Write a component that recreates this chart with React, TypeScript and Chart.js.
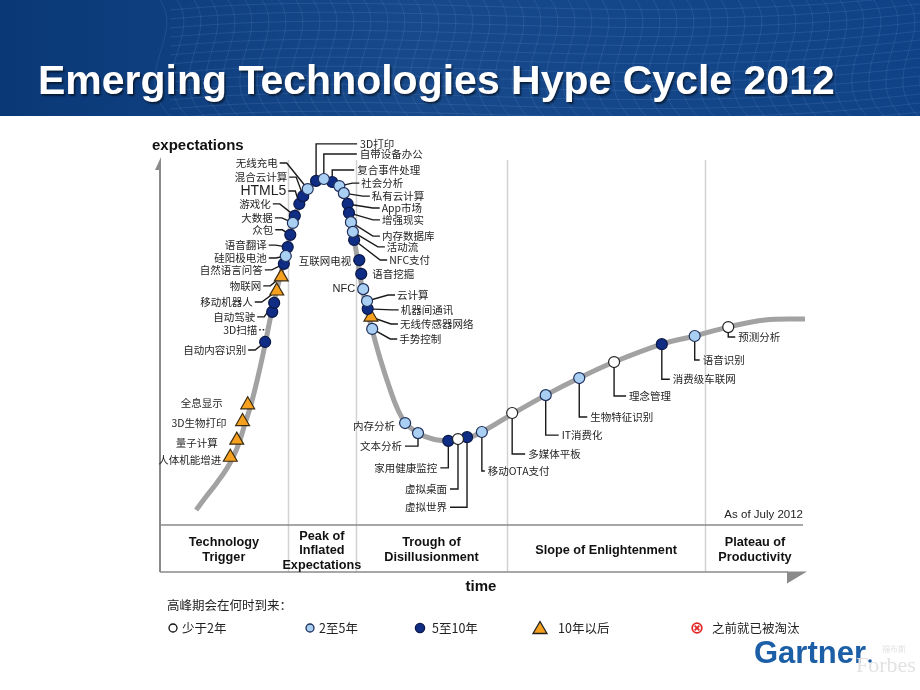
import React, { useEffect, useRef } from "react";
import { Chart, registerables } from "chart.js";

Chart.register(...registerables);

// ---------- data ----------
const curveTime = [5.6, 7.1, 8.8, 10.4, 11.5, 12.4, 13.2, 14.0, 14.7, 15.5, 16.3, 17.2, 18.0, 18.8, 19.5, 20.2, 20.9, 21.7, 22.6, 23.7, 25.1, 26.5, 27.8, 28.5, 29.1, 29.6, 30.1, 30.7, 31.3, 32.1, 32.9, 34.1, 35.7, 36.9, 38.1, 40.0, 42.3, 44.7, 46.8, 49.9, 54.6, 59.8, 65.0, 70.4, 77.8, 82.9, 88.1, 93.8, 100];
const curveExpect = [3.2, 6.7, 10.5, 14.5, 18.0, 22.0, 26.6, 30.9, 35.5, 41.4, 47.8, 55.6, 61.6, 67.2, 72.3, 76.9, 82.0, 85.8, 88.7, 90.9, 92.2, 91.9, 90.3, 88.2, 84.9, 80.6, 75.8, 69.9, 63.2, 57.0, 51.6, 44.1, 35.5, 30.1, 26.6, 23.9, 22.3, 21.8, 22.0, 24.2, 29.0, 34.1, 38.7, 43.0, 47.8, 50.0, 52.4, 54.3, 54.6];

const techNames = ["人体机能增进", "量子计算", "3D生物打印", "全息显示", "自动内容识别", "3D扫描", "自动驾驶", "移动机器人", "物联网", "自然语言问答", "硅阳极电池", "语音翻译", "众包", "大数据", "游戏化", "HTML5", "混合云计算", "无线充电", "3D打印", "自带设备办公", "复合事件处理", "社会分析", "私有云计算", "App市场", "增强现实", "内存数据库", "活动流", "NFC支付", "互联网电视", "语音挖掘", "NFC", "云计算", "机器间通讯", "无线传感器网络", "手势控制", "内存分析", "文本分析", "家用健康监控", "虚拟桌面", "虚拟世界", "移动OTA支付", "多媒体平板", "IT消费化", "生物特征识别", "理念管理", "消费级车联网", "语音识别", "预测分析"];
const techTime = [10.9, 11.9, 12.8, 13.6, 16.3, 17.4, 17.7, 18.1, 18.8, 19.2, 19.5, 19.8, 20.2, 20.6, 20.9, 21.6, 22.2, 22.9, 24.2, 25.4, 26.7, 27.8, 28.5, 29.1, 29.3, 29.6, 29.9, 30.1, 30.9, 31.2, 31.5, 32.1, 32.2, 32.7, 32.9, 38.0, 40.0, 44.7, 46.2, 47.6, 49.9, 54.6, 59.8, 65.0, 70.4, 77.8, 82.9, 88.1];
const techExpect = [17.4, 22.0, 27.0, 31.5, 48.4, 56.5, 58.9, 62.1, 65.9, 69.4, 71.5, 73.9, 77.2, 80.4, 82.3, 85.5, 87.6, 89.5, 91.7, 92.2, 91.4, 90.3, 88.4, 85.5, 83.1, 80.6, 78.0, 75.8, 70.4, 66.7, 62.6, 59.4, 57.3, 55.1, 51.9, 26.6, 23.9, 21.8, 22.3, 22.8, 24.2, 29.3, 34.1, 38.7, 43.0, 47.8, 50.0, 52.4];
const techPeak = [">10", ">10", ">10", ">10", "5-10", "5-10", "5-10", ">10", ">10", "5-10", "2-5", "5-10", "5-10", "2-5", "5-10", "5-10", "5-10", "2-5", "5-10", "2-5", "5-10", "2-5", "2-5", "5-10", "5-10", "2-5", "2-5", "5-10", "5-10", "5-10", "2-5", "2-5", "5-10", ">10", "2-5", "2-5", "2-5", "5-10", "<2", "5-10", "2-5", "<2", "2-5", "2-5", "<2", "5-10", "2-5", "<2"];

const peakGroups = ["<2", "2-5", "5-10", ">10"];
const legendTitle = "高峰期会在何时到来：";
const legendLabels = ["少于2年", "2至5年", "5至10年", "10年以后", "之前就已被淘汰"];
const phaseBounds = [0, 19.8, 30.4, 53.8, 84.5, 100];
const phaseLabels = [["Technology", "Trigger"], ["Peak of", "Inflated", "Expectations"], ["Trough of", "Disillusionment"], ["Slope of Enlightenment"], ["Plateau of", "Productivity"]];
const titleText = "Emerging Technologies Hype Cycle 2012";
const yAxisTitle = "expectations";
const xAxisTitle = "time";
const asOfText = "As of July 2012";

// ---------- layout (label offsets from marker, px) ----------
// [dx, dy, align, leader]  leader: n none, s side, o dotted side, u elbow up, d elbow down, t straight
const labelLayout: [number, number, string, string][] = [
  [-9, 3, "R", "n"], [-19, 3, "R", "n"], [-16, 1, "R", "n"], [-25, -2, "R", "n"],
  [-19, 8, "R", "s"], [-15, 18, "R", "o"], [-19, 14, "R", "s"], [-24, 11, "R", "s"],
  [-20, 9, "R", "s"], [-21, 6, "R", "s"], [-19, 2, "R", "s"], [-21, -2, "R", "s"],
  [-17, -5, "R", "s"], [-20, -5, "R", "s"], [-24, -12, "R", "s"], [-13, -13, "R", "s"],
  [-16, -19, "R", "s"], [-30, -26, "R", "s"],
  [44, -37, "L", "u"], [36, -25, "L", "u"], [25, -12, "L", "u"], [22, -3, "L", "s"],
  [28, 3, "L", "s"], [34, 4, "L", "s"], [33, 7, "L", "s"], [31, 14, "L", "s"],
  [34, 15, "L", "s"], [35, 20, "L", "s"], [-8, 1, "R", "t"], [11, 0, "L", "n"],
  [-8, 0, "R", "n"], [30, -6, "L", "s"], [33, 1, "L", "s"], [29, 7, "L", "s"],
  [27, 10, "L", "s"],
  [-10, 3, "R", "n"], [-16, 13, "R", "d"], [-11, 27, "R", "d"], [-11, 50, "R", "d"],
  [-20, 70, "R", "d"], [6, 39, "L", "d"], [16, 41, "L", "d"], [16, 40, "L", "d"],
  [11, 39, "L", "d"], [15, 34, "L", "d"], [11, 35, "L", "d"], [8, 24, "L", "d"],
  [10, 10, "L", "d"],
];

const CJK = '"Noto Sans CJK SC", "Noto Sans", sans-serif';
const LAT = '"Liberation Sans", Arial, sans-serif';

const groupStyle: Record<string, any> = {
  "<2": { bg: "#ffffff", border: "#222222", r: 5.5, style: "circle" },
  "2-5": { bg: "#a9d0f2", border: "#1f2f5a", r: 5.5, style: "circle" },
  "5-10": { bg: "#102d86", border: "#0a1848", r: 5.5, style: "circle" },
  ">10": { bg: "#f5a01e", border: "#3a2a10", r: 8, style: "triangle" },
};

function drawBanner(ctx: CanvasRenderingContext2D) {
  const g = ctx.createLinearGradient(0, 0, 920, 0);
  g.addColorStop(0, "#0a3877");
  g.addColorStop(0.45, "#17498b");
  g.addColorStop(1, "#0f4286");
  ctx.fillStyle = g;
  ctx.fillRect(0, 0, 920, 116);
  ctx.save();
  ctx.beginPath();
  ctx.rect(0, 0, 920, 116);
  ctx.clip();
  ctx.strokeStyle = "rgba(165,200,245,0.12)";
  ctx.lineWidth = 1;
  for (let i = 0; i < 46; i++) {
    const x0 = 160 + i * 17;
    ctx.beginPath();
    ctx.moveTo(x0, 0);
    ctx.bezierCurveTo(x0 + 25, 35, x0 - 30, 75, x0 + 10, 116);
    ctx.stroke();
  }
  for (let j = 0; j < 14; j++) {
    const y0 = j * 9;
    ctx.beginPath();
    ctx.moveTo(170, y0 + 10);
    ctx.bezierCurveTo(400, y0 - 12, 620, y0 + 30, 920, y0 - 5);
    ctx.stroke();
  }
  ctx.restore();
  ctx.save();
  ctx.fillStyle = "#ffffff";
  ctx.font = `bold 41px ${LAT}`;
  ctx.textBaseline = "alphabetic";
  ctx.textAlign = "left";
  ctx.shadowColor = "rgba(0,0,0,0.55)";
  ctx.shadowOffsetX = 1.5;
  ctx.shadowOffsetY = 1.5;
  ctx.shadowBlur = 2;
  ctx.fillText(titleText, 38, 94);
  ctx.restore();
}

function drawLegendSymbol(ctx: CanvasRenderingContext2D, kind: string, x: number, y: number) {
  ctx.save();
  ctx.lineWidth = 1.3;
  if (kind === "x") {
    ctx.strokeStyle = "#e02a2a";
    ctx.lineWidth = 1.8;
    ctx.beginPath();
    ctx.arc(x, y, 4.8, 0, Math.PI * 2);
    ctx.stroke();
    ctx.beginPath();
    ctx.moveTo(x - 2.4, y - 2.4); ctx.lineTo(x + 2.4, y + 2.4);
    ctx.moveTo(x + 2.4, y - 2.4); ctx.lineTo(x - 2.4, y + 2.4);
    ctx.stroke();
  } else if (kind === ">10") {
    ctx.fillStyle = "#f5a01e";
    ctx.strokeStyle = "#222";
    ctx.beginPath();
    ctx.moveTo(x, y - 6.5); ctx.lineTo(x + 7, y + 5.5); ctx.lineTo(x - 7, y + 5.5);
    ctx.closePath();
    ctx.fill(); ctx.stroke();
  } else {
    const s = groupStyle[kind];
    ctx.fillStyle = s.bg;
    ctx.strokeStyle = kind === "<2" ? "#111" : s.border;
    ctx.beginPath();
    ctx.arc(x, y, kind === "5-10" ? 4.6 : 4, 0, Math.PI * 2);
    ctx.fill(); ctx.stroke();
  }
  ctx.restore();
}

const hypePlugin = {
  id: "hype",
  beforeDraw(chart: any) {
    const ctx: CanvasRenderingContext2D = chart.ctx;
    const xs = chart.scales.x;
    const area = chart.chartArea;
    ctx.save();
    ctx.fillStyle = "#ffffff";
    ctx.fillRect(0, 0, 920, 690);
    drawBanner(ctx);

    const boxTop = 525, boxBottom = 572;
    // phase dividers
    ctx.strokeStyle = "#d2d2d2";
    ctx.lineWidth = 1.5;
    for (let k = 1; k < phaseBounds.length - 1; k++) {
      const px = Math.round(xs.getPixelForValue(phaseBounds[k])) + 0.5;
      ctx.beginPath();
      ctx.moveTo(px, 160);
      ctx.lineTo(px, boxBottom);
      ctx.stroke();
    }
    // y axis
    ctx.strokeStyle = "#8a8a8a";
    ctx.lineWidth = 2;
    ctx.beginPath();
    ctx.moveTo(area.left, 163);
    ctx.lineTo(area.left, boxBottom);
    ctx.stroke();
    ctx.fillStyle = "#8a8a8a";
    ctx.beginPath();
    ctx.moveTo(area.left + 1, 157);
    ctx.lineTo(area.left + 1, 170);
    ctx.lineTo(area.left - 5, 170);
    ctx.closePath();
    ctx.fill();
    // phase box
    ctx.strokeStyle = "#8a8a8a";
    ctx.lineWidth = 1.6;
    ctx.beginPath();
    ctx.moveTo(area.left, boxTop); ctx.lineTo(area.right - 2, boxTop);
    ctx.moveTo(area.left, boxBottom); ctx.lineTo(788, boxBottom);
    ctx.stroke();
    ctx.fillStyle = "#8a8a8a";
    ctx.beginPath();
    ctx.moveTo(787, boxBottom - 0.5); ctx.lineTo(807, boxBottom - 0.5); ctx.lineTo(787, boxBottom + 11.5);
    ctx.closePath();
    ctx.fill();

    // phase labels
    ctx.fillStyle = "#111";
    ctx.font = `bold 12.7px ${LAT}`;
    ctx.textAlign = "center";
    ctx.textBaseline = "middle";
    for (let k = 0; k < phaseLabels.length; k++) {
      const cx = (xs.getPixelForValue(phaseBounds[k]) + xs.getPixelForValue(phaseBounds[k + 1])) / 2;
      const lines = phaseLabels[k];
      const lh = 14.5;
      const cy = lines.length === 3 ? 550.5 : 550;
      lines.forEach((ln, j) => {
        ctx.fillText(ln, cx, cy + (j - (lines.length - 1) / 2) * lh);
      });
    }
    // axis titles
    ctx.textAlign = "left";
    ctx.textBaseline = "alphabetic";
    ctx.font = `bold 15px ${LAT}`;
    ctx.fillText(yAxisTitle, 152, 150);
    ctx.textAlign = "center";
    ctx.fillText(xAxisTitle, 481, 591);
    ctx.font = `11.5px ${LAT}`;
    ctx.textAlign = "right";
    ctx.textBaseline = "middle";
    ctx.fillStyle = "#222";
    ctx.fillText(asOfText, 803, 515);

    // legend
    ctx.font = `12.5px ${CJK}`;
    ctx.textAlign = "left";
    ctx.fillStyle = "#222";
    ctx.fillText(legendTitle, 167, 605);
    const symX = [173, 310, 420, 540, 697];
    const txtX = [182, 319, 432, 558, 712];
    const kinds = ["<2", "2-5", "5-10", ">10", "x"];
    for (let k = 0; k < kinds.length; k++) {
      drawLegendSymbol(ctx, kinds[k], symX[k], 628);
      ctx.fillStyle = "#222";
      ctx.font = `12.5px ${CJK}`;
      ctx.fillText(legendLabels[k], txtX[k], 628);
    }
    // logo
    ctx.font = `bold 31px ${LAT}`;
    ctx.fillStyle = "#1d5fa7";
    ctx.textBaseline = "alphabetic";
    ctx.fillText("Gartner", 754, 663);
    ctx.beginPath();
    ctx.arc(870, 661, 1.8, 0, Math.PI * 2);
    ctx.fill();
    ctx.font = `22px "Liberation Serif", serif`;
    ctx.fillStyle = "#e2e2e2";
    ctx.fillText("Forbes", 856, 672);
    ctx.font = `8px ${CJK}`;
    ctx.fillText("福布斯", 882, 652);
    ctx.restore();
  },
  beforeDatasetsDraw(chart: any) {
    const ctx: CanvasRenderingContext2D = chart.ctx;
    const xs = chart.scales.x, ys = chart.scales.y;
    ctx.save();
    ctx.strokeStyle = "#1a1a1a";
    ctx.lineWidth = 1.4;
    for (let i = 0; i < techNames.length; i++) {
      const mx = xs.getPixelForValue(techTime[i]);
      const my = ys.getPixelForValue(techExpect[i]);
      const [dx, dy, al, ld] = labelLayout[i];
      if (ld === "n") continue;
      const tx = mx + dx, ty = my + dy;
      const s = al === "R" ? 1 : -1;
      ctx.setLineDash(ld === "o" ? [1.5, 2] : []);
      ctx.beginPath();
      if (ld === "s" || ld === "o") {
        ctx.moveTo(tx + s * 2, ty);
        ctx.lineTo(tx + s * 9, ty);
        ctx.lineTo(mx, my);
      } else if (ld === "u" || ld === "d") {
        ctx.moveTo(mx, my);
        ctx.lineTo(mx, ty);
        ctx.lineTo(tx + s * 3, ty);
      } else if (ld === "t") {
        ctx.moveTo(tx + s * 2, ty);
        ctx.lineTo(mx, my);
      }
      ctx.stroke();
    }
    ctx.restore();
  },
  afterDatasetsDraw(chart: any) {
    const ctx: CanvasRenderingContext2D = chart.ctx;
    const xs = chart.scales.x, ys = chart.scales.y;
    ctx.save();
    ctx.fillStyle = "#1e1e1e";
    ctx.textBaseline = "middle";
    for (let i = 0; i < techNames.length; i++) {
      const mx = xs.getPixelForValue(techTime[i]);
      const my = ys.getPixelForValue(techExpect[i]);
      const [dx, dy, al] = labelLayout[i];
      const name = techNames[i];
      if (name === "HTML5") ctx.font = `14px ${LAT}`;
      else if (/^[A-Za-z0-9]+$/.test(name)) ctx.font = `11px ${LAT}`;
      else ctx.font = `10.5px ${CJK}`;
      ctx.textAlign = al === "R" ? "right" : "left";
      ctx.fillText(name, mx + dx, my + dy);
    }
    ctx.restore();
  },
};

export default function App() {
  const ref = useRef<HTMLCanvasElement | null>(null);
  useEffect(() => {
    if (!ref.current) return;
    const markerSets = peakGroups.map((g) => {
      const st = groupStyle[g];
      const pts: { x: number; y: number }[] = [];
      techPeak.forEach((p, i) => {
        if (p === g) pts.push({ x: techTime[i], y: techExpect[i] });
      });
      return {
        type: "scatter" as const,
        label: g,
        data: pts,
        pointStyle: st.style,
        pointRadius: st.r,
        pointHoverRadius: st.r,
        backgroundColor: st.bg,
        borderColor: st.border,
        pointBorderWidth: 1.2,
        borderWidth: 1.2,
        order: 1,
      };
    });
    const chart = new Chart(ref.current, {
      type: "scatter",
      data: {
        datasets: [
          {
            type: "line" as const,
            label: "curve",
            data: curveTime.map((t, i) => ({ x: t, y: curveExpect[i] })),
            borderColor: "#a2a2a2",
            borderWidth: 5,
            pointRadius: 0,
            tension: 0.4,
            fill: false,
            order: 10,
          },
          ...markerSets,
        ] as any,
      },
      options: {
        responsive: false,
        animation: false,
        devicePixelRatio: 1,
        events: [],
        layout: { padding: { left: 160, right: 115, top: 150, bottom: 168 } },
        scales: {
          x: { type: "linear", min: 0, max: 100, display: false },
          y: { type: "linear", min: 0, max: 100, display: false },
        },
        plugins: { legend: { display: false }, tooltip: { enabled: false } },
      },
      plugins: [hypePlugin],
    });
    return () => chart.destroy();
  }, []);
  return (
    <div style={{ position: "fixed", left: 0, top: 0, width: 920, height: 690, background: "#fff" }}>
      <canvas ref={ref} width={920} height={690} style={{ display: "block", width: 920, height: 690 }} />
    </div>
  );
}
